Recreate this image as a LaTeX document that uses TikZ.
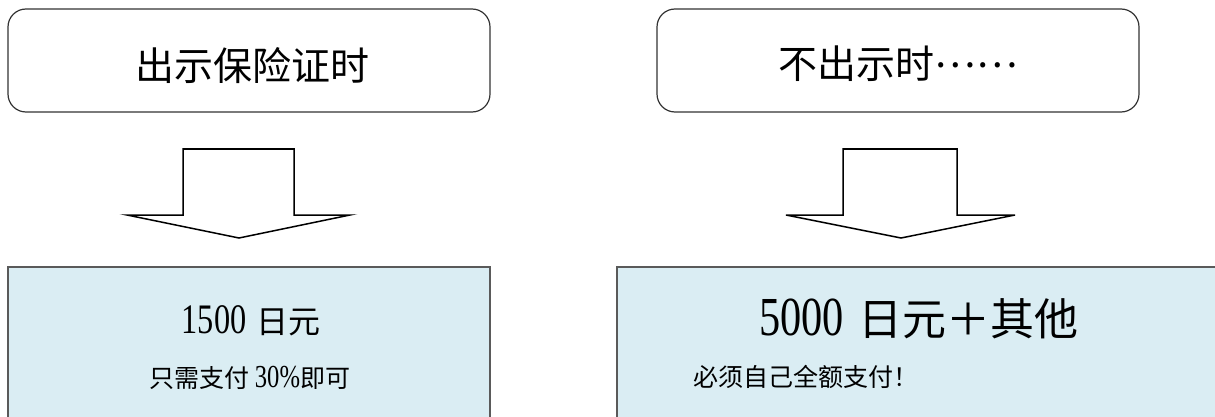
\documentclass[tikz,border=0pt]{standalone}
\usepackage{fontspec}
\setmainfont{Liberation Serif}
\newfontfamily\cjk{Noto Sans CJK SC}
\newfontfamily\digitfont[FakeStretch=0.77]{Liberation Serif}
\definecolor{boxfill}{HTML}{DAEDF3}
\definecolor{boxline}{HTML}{5A5A5A}
\begin{document}
\begin{tikzpicture}[x=1pt,y=-1pt,
  topbox/.style={draw=black!80, line width=1.2pt, rounded corners=18pt, fill=white,
    minimum width=482pt, minimum height=103pt, inner sep=0pt},
  botbox/.style={draw=boxline, line width=1.3pt, fill=boxfill, inner sep=0pt},
  blockarrow/.style={draw=black, line width=1.5pt, fill=white, line join=miter},
  bigtext/.style={font=\fontsize{39}{39}\selectfont\cjk, inner sep=0pt},
  smalltext/.style={font=\fontsize{25}{25}\selectfont, inner sep=0pt}]
\useasboundingbox (0,0) rectangle (1215,417);
\clip (0,0) rectangle (1215,417);
% top boxes
\node[topbox] (t1) at (249,60.5) {};
\node[topbox] (t2) at (898,60.5) {};
\node[bigtext] (t1txt) at (252,66) {出示保险证时};
\node[bigtext, anchor=base] (t2txt) at (898,79) {不出示时\raisebox{0.3em}{……}};
% bottom boxes
\node[botbox, minimum width=482pt, minimum height=180pt] (b1) at (249,357) {};
\node[botbox, minimum width=623pt, minimum height=180pt] (b2) at (928.5,357) {};
% block arrows
\draw[blockarrow] (183,149) -- (294,149) -- (294,215) -- (350,215) -- (239,238)
  -- (127,215) -- (183,215) -- cycle;
\draw[blockarrow] (843,149) -- (957,149) -- (957,215) -- (1015,215) -- (901,238)
  -- (786,215) -- (843,215) -- cycle;
% texts
\node[inner sep=0pt, anchor=base] (p1) at (251,333)
  {{\fontsize{42}{42}\selectfont\digitfont 1500}\hspace{10pt}{\fontsize{32}{32}\selectfont\cjk 日元}};
\node[smalltext, anchor=base] (s1) at (250,387)
  {{\cjk 只需支付}\hspace{5pt}{\fontsize{32}{32}\selectfont\digitfont 30\%}{\cjk 即可}};
\node[inner sep=0pt, anchor=base] (p2) at (919,335)
  {{\fontsize{55}{55}\selectfont\digitfont 5000}\hspace{15pt}{\fontsize{44}{44}\selectfont\cjk 日元＋其他}};
\node[smalltext, anchor=west] (s2) at (693,377) {\cjk 必须自己全额支付！};
\end{tikzpicture}
\end{document}
